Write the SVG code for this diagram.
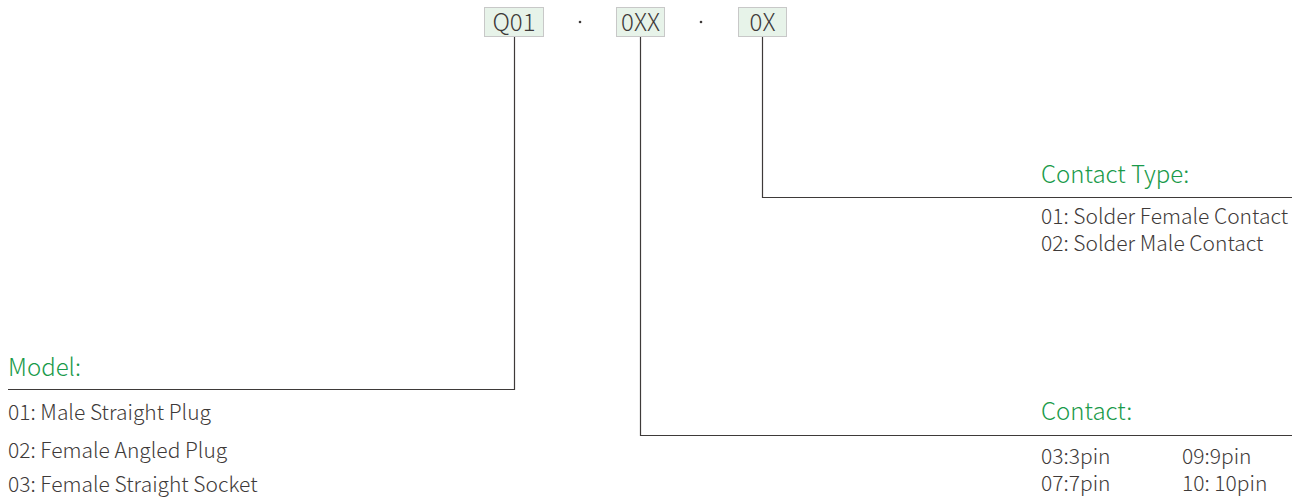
<svg xmlns="http://www.w3.org/2000/svg" width="1306" height="503" viewBox="0 0 1306 503">
<style>
.box{fill:#e7f3e9;stroke:#c8c8c8;stroke-width:1}
.code{font-family:"Noto Sans CJK SC","Noto Sans",sans-serif;font-size:24px;fill:#3e3a39;font-weight:300}
.head{font-family:"Noto Sans CJK SC","Noto Sans",sans-serif;font-size:24px;fill:#1a9a4a;font-weight:300}
.item{font-family:"Noto Sans CJK SC","Noto Sans",sans-serif;font-size:21px;fill:#3e3a39;font-weight:300}
.ln{fill:none;stroke:#3e3a39;stroke-width:1.2}
.dot{fill:#3e3a39}
</style>
<rect width="1306" height="503" fill="#fff"/>
<g id="node-q01"><rect class="box" x="484.5" y="7.5" width="59" height="29"/><text class="code" x="514" y="31" text-anchor="middle">Q01</text></g>
<g id="dot1"><circle class="dot" cx="580" cy="22" r="1.3"/></g>
<g id="node-0xx"><rect class="box" x="616.5" y="7.5" width="48" height="29"/><text class="code" x="640.5" y="31" text-anchor="middle">0XX</text></g>
<g id="dot2"><circle class="dot" cx="701" cy="22" r="1.3"/></g>
<g id="node-0x"><rect class="box" x="738.5" y="7.5" width="48" height="29"/><text class="code" x="762.5" y="31" text-anchor="middle">0X</text></g>
<g id="connectors">
<polyline class="ln" points="514.5,37 514.5,389.5 8,389.5"/>
<polyline class="ln" points="640.5,37 640.5,435.5 1292,435.5"/>
<polyline class="ln" points="762.5,37 762.5,197.5 1292,197.5"/>
</g>
<g id="contact-type">
<text class="head" x="1041" y="183">Contact Type:</text>
<text class="item" x="1041" y="224">01: Solder Female Contact</text>
<text class="item" x="1041" y="251">02: Solder Male Contact</text>
</g>
<g id="model">
<text class="head" x="8" y="376">Model:</text>
<text class="item" x="8" y="420">01: Male Straight Plug</text>
<text class="item" x="8" y="458">02: Female Angled Plug</text>
<text class="item" x="8" y="492">03: Female Straight Socket</text>
</g>
<g id="contact">
<text class="head" x="1041" y="420">Contact:</text>
<text class="item" x="1041" y="464">03:3pin</text>
<text class="item" x="1182" y="464">09:9pin</text>
<text class="item" x="1041" y="491">07:7pin</text>
<text class="item" x="1182" y="491">10: 10pin</text>
</g>
</svg>
